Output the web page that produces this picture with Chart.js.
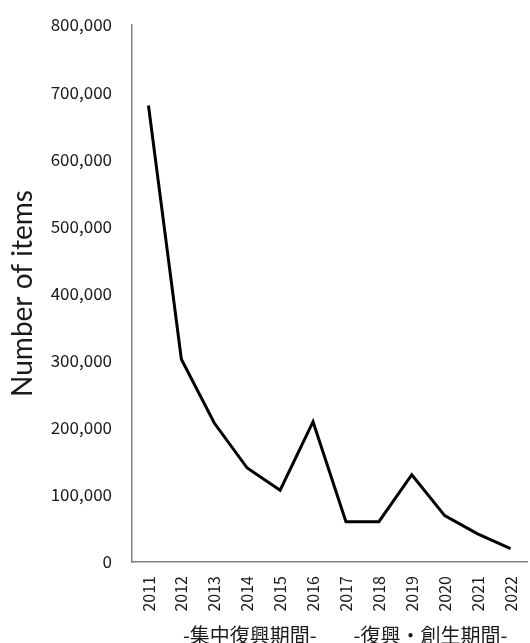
<!DOCTYPE html>
<html>
<head>
<meta charset="utf-8">
<script src="https://cdn.jsdelivr.net/npm/chart.js@4"></script>
<style>
html,body{margin:0;padding:0;background:#fff;}
#wrap{width:530px;height:643px;position:relative;}
</style>
</head>
<body>
<div id="wrap"><canvas id="c" width="530" height="643"></canvas></div>
<script>
const years = ["2011","2012","2013","2014","2015","2016","2017","2018","2019","2020","2021","2022"];
const items = [680000,302000,207000,140000,107000,209000,60000,60000,130000,69000,42000,20000];
const yTicks = [0,100000,200000,300000,400000,500000,600000,700000,800000];
const periodLabels = ["-集中復興期間-","-復興・創生期間-"];
const periodCenters = [3.08, 8.57]; // category positions (index) where labels are centered

const periodPlugin = {
  id: 'periods',
  afterDraw(chart) {
    const ctx = chart.ctx;
    const xs = chart.scales.x;
    ctx.save();
    ctx.font = '20px "Noto Sans CJK JP"';
    ctx.fillStyle = '#1a1a1a';
    ctx.textAlign = 'center';
    ctx.textBaseline = 'middle';
    periodLabels.forEach((t, i) => {
      ctx.fillText(t, xs.getPixelForValue(periodCenters[i]), 635);
    });
    ctx.restore();
  }
};

new Chart(document.getElementById('c'), {
  type: 'line',
  data: {
    labels: years,
    datasets: [{
      data: items,
      borderColor: '#000',
      borderWidth: 3,
      pointRadius: 0,
      tension: 0,
      fill: false
    }]
  },
  options: {
    responsive: false,
    animation: false,
    layout: { padding: { top: 0, right: 3, left: 0, bottom: 0 } },
    plugins: { legend: { display: false }, tooltip: { enabled: false } },
    scales: {
      x: {
        offset: true,
        grid: { display: false, drawTicks: false, offset: true },
        border: { color: '#808080', width: 1.5 },
        ticks: {
          maxRotation: 90, minRotation: 90, padding: 14,
          color: '#1a1a1a',
          font: { family: '"Noto Sans CJK JP"', size: 16 }
        },
        afterFit(s) { s.height = 81; s.paddingLeft = 0; s.paddingRight = 0; }
      },
      y: {
        min: 0, max: 800000,
        grid: { display: false, drawTicks: false },
        border: { color: '#808080', width: 1.5 },
        afterBuildTicks(s) { s.ticks = yTicks.map(v => ({ value: v })); },
        ticks: {
          padding: 20,
          color: '#1a1a1a',
          font: { family: '"Noto Sans CJK JP"', size: 17 },
          callback: v => v.toLocaleString('en-US')
        },
        title: {
          display: true,
          text: 'Number of items',
          color: '#1a1a1a',
          font: { family: 'Lato', size: 28 },
          padding: { top: 6, bottom: 0 }
        },
        afterFit(s) { s.width = 132; s.paddingTop = 25; s.paddingBottom = 0; }
      }
    }
  },
  plugins: [periodPlugin]
});
</script>
</body>
</html>
